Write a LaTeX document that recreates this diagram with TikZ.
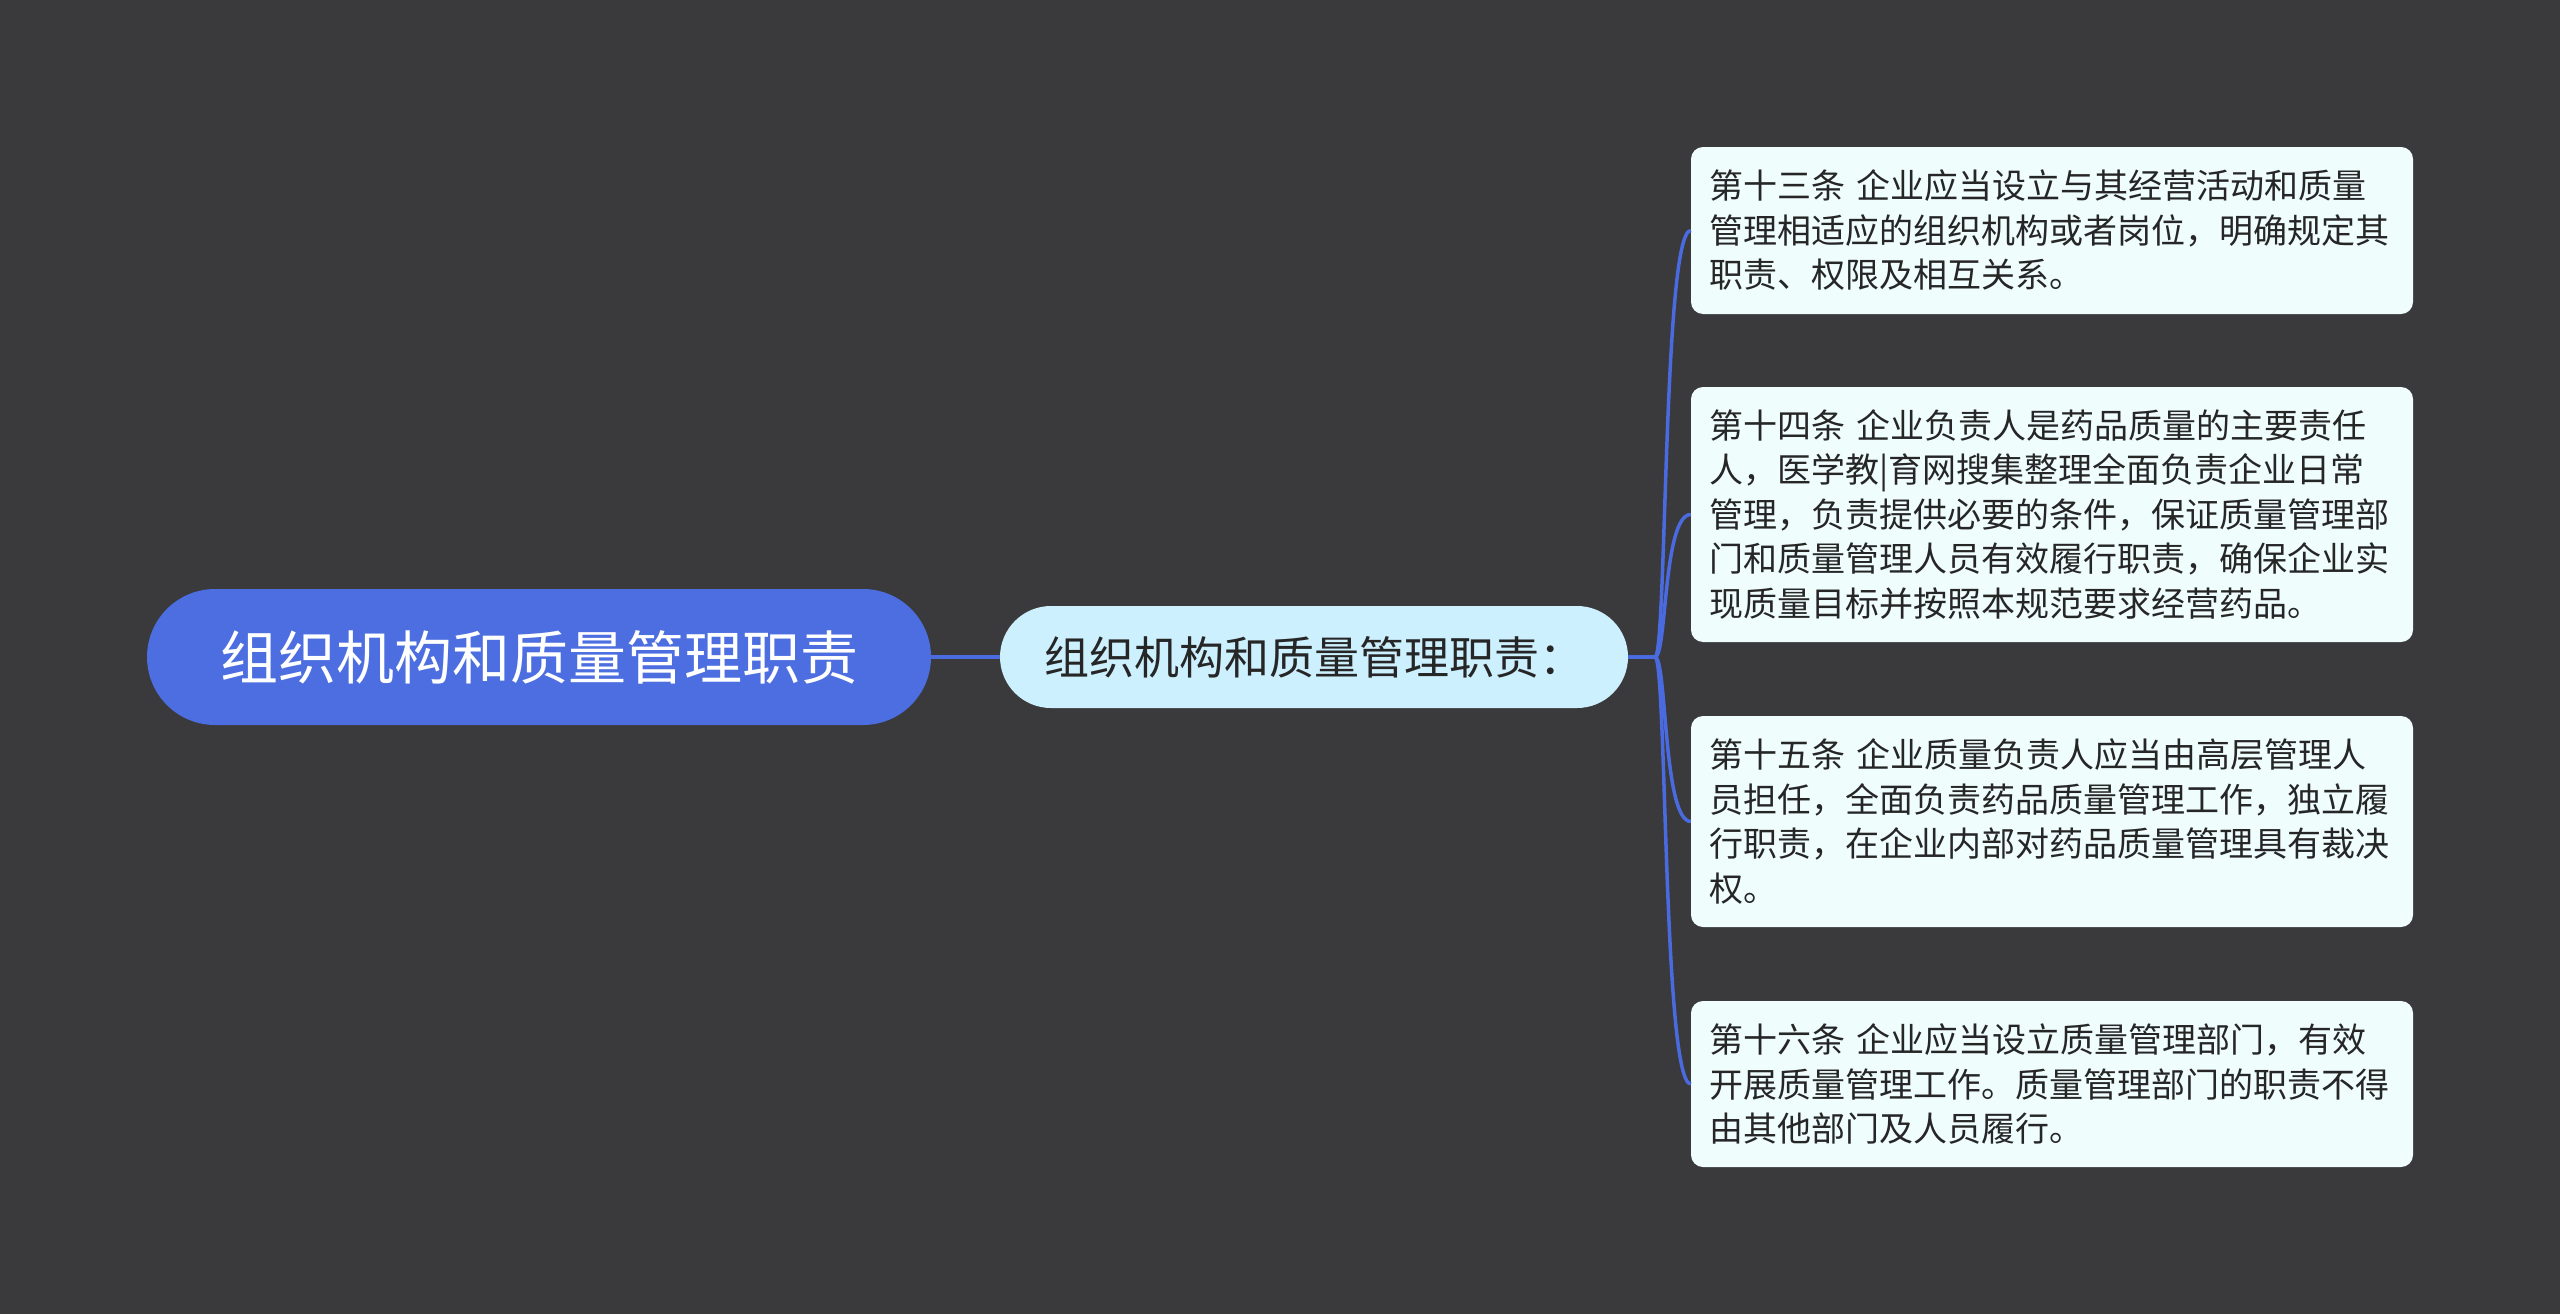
\documentclass[tikz,border=0pt]{standalone}
\usepackage{fontspec}
\newfontfamily\cjk{Noto Sans CJK SC}
\definecolor{bgc}{HTML}{3A393B}
\definecolor{rootc}{HTML}{4C6EE0}
\definecolor{subc}{HTML}{CDF0FE}
\definecolor{leafc}{HTML}{F0FDFD}
\definecolor{linec}{HTML}{4A6ADF}
\definecolor{txtc}{HTML}{262626}
\tikzset{
  rootbox/.style={fill=rootc, text=white, rounded corners=68pt, minimum width=784pt, minimum height=136pt, inner sep=0pt, font=\cjk\fontsize{58}{64}\selectfont},
  subbox/.style={fill=subc, text=txtc, rounded corners=51pt, minimum width=628pt, minimum height=102pt, inner sep=0pt, font=\cjk\fontsize{45}{50}\selectfont},
  leafbox/.style={fill=leafc, text=txtc, rounded corners=12pt, minimum width=722pt, inner xsep=18pt, inner ysep=0pt, text width=686pt, align=left, font=\cjk\fontsize{34}{44.5}\selectfont},
  conn/.style={draw=linec, line width=3.5pt},
}
\begin{document}
\begin{tikzpicture}[x=1pt,y=-1pt]
\fill[bgc] (0,0) rectangle (2560,1314);
\useasboundingbox (0,0) rectangle (2560,1314);
\node[rootbox] (root) at (539,657) {组织机构和质量管理职责};
\node[subbox] (sub) at (1314,657) {组织机构和质量管理职责：};
\node[leafbox, minimum height=167pt] (b1) at (2052,230.5) {第十三条 企业应当设立与其经营活动和质量\\管理相适应的组织机构或者岗位，明确规定其\\职责、权限及相互关系。};
\node[leafbox, minimum height=255pt] (b2) at (2052,514.5) {第十四条 企业负责人是药品质量的主要责任\\人，医学教|育网搜集整理全面负责企业日常\\管理，负责提供必要的条件，保证质量管理部\\门和质量管理人员有效履行职责，确保企业实\\现质量目标并按照本规范要求经营药品。};
\node[leafbox, minimum height=211pt] (b3) at (2052,821.5) {第十五条 企业质量负责人应当由高层管理人\\员担任，全面负责药品质量管理工作，独立履\\行职责，在企业内部对药品质量管理具有裁决\\权。};
\node[leafbox, minimum height=166pt] (b4) at (2052,1084) {第十六条 企业应当设立质量管理部门，有效\\开展质量管理工作。质量管理部门的职责不得\\由其他部门及人员履行。};
\coordinate (j) at (1655,657);
\draw[conn] (root.east) -- (sub.west);
\foreach \b in {b1,b2,b3,b4}{
  \draw[conn] (sub.east) -- (j) .. controls ([xshift=12pt]j) and ([xshift=-28pt]\b.west) .. (\b.west);
}
\end{tikzpicture}
\end{document}
